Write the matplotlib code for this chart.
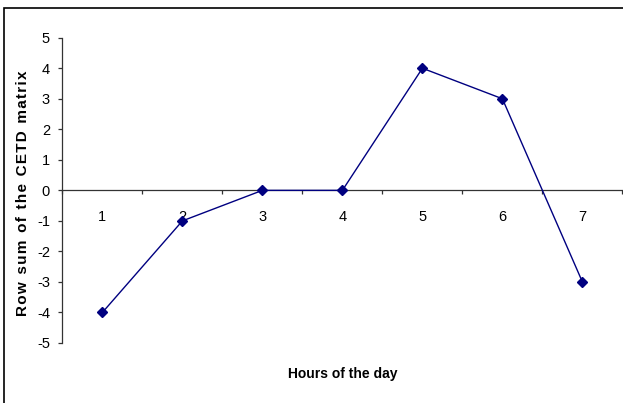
import numpy as np
import matplotlib
matplotlib.use("Agg")
import matplotlib.pyplot as plt
from matplotlib.patches import Rectangle

# donnees
heures = [1, 2, 3, 4, 5, 6, 7]
somme_lignes = [-4, -1, 0, 0, 4, 3, -3]
y_ticks = [5, 4, 3, 2, 1, 0, -1, -2, -3, -4, -5]

police = ["Liberation Sans", "DejaVu Sans"]

fig = plt.figure(figsize=(6.23, 4.03), dpi=100)
ax = fig.add_axes([62.4 / 623, 60 / 403, 560 / 623, 305.3 / 403])

# cadre exterieur (a moitie coupe, comme sur l'image)
fig.patches.append(Rectangle((4 / 623, -0.1), 1.2, 1.1 - 8 / 403,
                             transform=fig.transFigure, fill=False,
                             edgecolor="black", linewidth=1.2))

ax.plot(heures, somme_lignes, color="#000080", linewidth=1,
        marker="D", markersize=5, markerfacecolor="#000080",
        markeredgecolor="#000080", clip_on=False, zorder=3)

ax.set_xlim(0.5, 7.5)
ax.set_ylim(-5, 5)

ax.spines["top"].set_visible(False)
ax.spines["right"].set_visible(False)
ax.spines["bottom"].set_position(("data", 0))
for s in ["left", "bottom"]:
    ax.spines[s].set_color("#333333")
    ax.spines[s].set_linewidth(0.9)

ax.set_yticks(y_ticks)
ax.set_yticklabels([str(v) for v in y_ticks], family=police, fontsize=10.5)
ax.tick_params(axis="y", direction="out", length=3, width=0.9,
               color="#333333", pad=6)

ax.set_xticks(heures)
ax.set_xticklabels([str(h) for h in heures], family=police, fontsize=10.5)
ax.set_xticks(np.arange(0.5, 8, 1), minor=True)
ax.tick_params(axis="x", which="major", length=0, pad=14)
ax.tick_params(axis="x", which="minor", direction="out", length=3,
               width=0.9, color="#333333")

# titre de l'axe y, lettres espacees comme dans l'original
titre_y = "R o w  s u m  o f  t h e  C E T D  m a t r i x"
titre_y = titre_y.replace("  ", "\u2002").replace(" ", "\u200a")
ax.set_ylabel(titre_y, family=police, fontsize=11, fontweight="bold")
ax.yaxis.set_label_coords(-0.058, 0.49)

ax.text(0.501, -0.1015, "Hours of the day", transform=ax.transAxes,
        ha="center", va="center", family=police, fontsize=10,
        fontweight="bold")

fig.savefig("out.png", dpi=100)
